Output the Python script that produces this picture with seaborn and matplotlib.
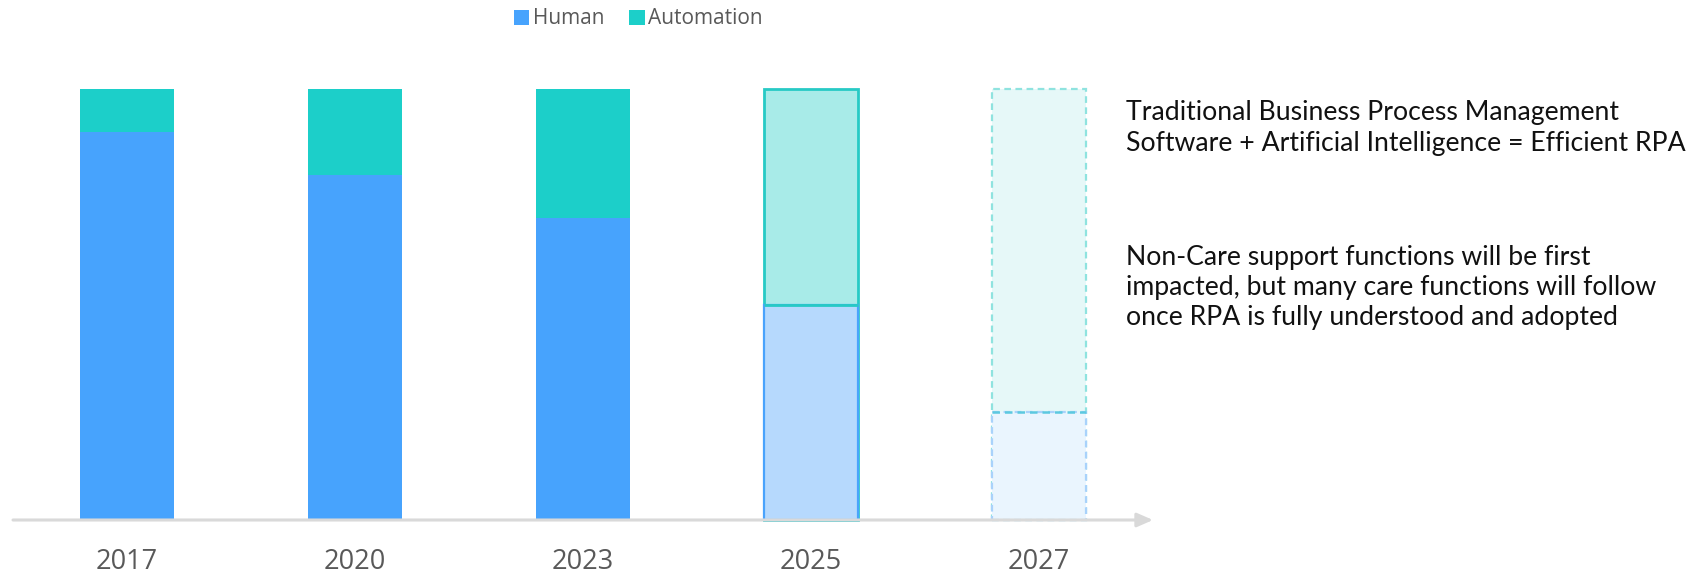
import matplotlib
matplotlib.use("Agg")
import matplotlib.pyplot as plt
from matplotlib.patches import Patch
import numpy as np
import pandas as pd
import seaborn as sns

years = ["2017", "2020", "2023", "2025", "2027"]
human = [90, 80, 70, 50, 25]
automation = [10, 20, 30, 50, 75]

notes_top = [
    "Traditional Business Process Management",
    "Software + Artificial Intelligence = Efficient RPA",
]
notes_bottom = [
    "Non-Care support functions will be first",
    "impacted, but many care functions will follow",
    "once RPA is fully understood and adopted",
]

df = pd.DataFrame({"year": years, "human": human, "automation": automation})
df["total"] = df["human"] + df["automation"]

sns.set_theme(style="white")
plt.rcParams["font.family"] = ["Open Sans", "DejaVu Sans"]

W, H = 1697, 575
fig = plt.figure(figsize=(W / 100, H / 100), dpi=100)
ax = fig.add_axes([13 / W, (H - 520) / H, (1153 - 13) / W, (520 - 89) / H])

HUMAN = "#47a3fd"
AUTO = "#1ccfc9"

# Automation segment drawn as full stack height, human drawn over it
sns.barplot(data=df, x="year", y="total", color=AUTO, width=0.41,
            saturation=1, ax=ax, zorder=1)
sns.barplot(data=df, x="year", y="human", color=HUMAN, width=0.41,
            saturation=1, ax=ax, zorder=2)

n = len(years)
auto_patches = ax.patches[:n]
human_patches = ax.patches[n:2 * n]

for i, (pa, ph) in enumerate(zip(auto_patches, human_patches)):
    pa.set_linewidth(0)
    ph.set_linewidth(0)
    if years[i] == "2025":
        pa.set_facecolor("#a8ebe8")
        pa.set_edgecolor("#27cac5")
        pa.set_linewidth(2)
        ph.set_facecolor("#b6d9fd")
        ph.set_edgecolor("#4aa3fc")
        ph.set_linewidth(1.6)
    elif years[i] == "2027":
        pa.set_facecolor("#e6f8f8")
        pa.set_edgecolor("#8fe3df")
        pa.set_linewidth(1.6)
        pa.set_linestyle((0, (3, 2)))
        ph.set_facecolor("#eaf5fe")
        ph.set_edgecolor("#a9d2fb")
        ph.set_linewidth(1.6)
        ph.set_linestyle((0, (3, 2)))
    pa.set_clip_on(False)
    ph.set_clip_on(False)

# solid divider on the 2025 stack, dashed divider on the 2027 stack
p25 = human_patches[3]
ax.plot([p25.get_x(), p25.get_x() + p25.get_width()],
        [p25.get_height()] * 2, color="#27cac5", lw=2,
        zorder=3, clip_on=False, solid_capstyle="butt")
p27 = human_patches[4]
ax.plot([p27.get_x(), p27.get_x() + p27.get_width()],
        [p27.get_height()] * 2, color="#5cc9e0", lw=1.8,
        ls=(0, (3, 2)), zorder=3, clip_on=False)

ax.set_xlim(-0.5, 4.5)
ax.set_ylim(0, 100)
for s in ax.spines.values():
    s.set_visible(False)
ax.set_yticks([])
ax.set_xlabel("")
ax.set_ylabel("")
ax.tick_params(axis="x", length=0, pad=20, labelsize=19.5, labelcolor="#595959")

# x axis line with arrow head
ax.annotate("", xy=(1.0, 0), xytext=(0, 0), xycoords="axes fraction",
            textcoords="axes fraction",
            arrowprops=dict(arrowstyle="-|>,head_length=0.8,head_width=0.35",
                            color="#d9d9d9", lw=2.2, shrinkA=0, shrinkB=0),
            annotation_clip=False, zorder=6)

handles = [Patch(facecolor=HUMAN, edgecolor="none", label="Human"),
           Patch(facecolor=AUTO, edgecolor="none", label="Automation")]
fig.legend(handles=handles, loc="upper center", bbox_to_anchor=(0.376, 1.018),
           ncol=2, frameon=False, fontsize=15, labelcolor="#595959",
           handlelength=0.75, handleheight=0.75, handletextpad=0.15,
           columnspacing=1.2)

# explanatory notes on the right
note_kw = dict(fontsize=19.2, family=["Lato", "DejaVu Sans"],
               color="#111111", va="baseline")
for k, line in enumerate(notes_top):
    fig.text(1126 / W, 1 - (120 + 30.5 * k) / H, line, **note_kw)
for k, line in enumerate(notes_bottom):
    fig.text(1126 / W, 1 - (264.5 + 30.5 * k) / H, line, **note_kw)

fig.savefig("out.png", dpi=100)
